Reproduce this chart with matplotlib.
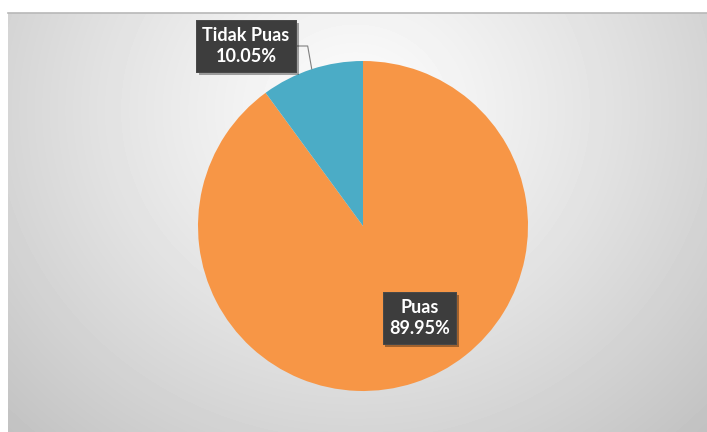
import matplotlib.pyplot as plt
import matplotlib.patheffects as pe
import numpy as np

# data
labels = ['Puas', 'Tidak Puas']
values = [89.95, 10.05]
colors = ['#F79646', '#4BACC6']

W, H = 707, 432
fig = plt.figure(figsize=(W / 100, H / 100), dpi=100)
fig.patch.set_facecolor('white')

# chart area with elliptical grey gradient, lightest near the top middle
bg = fig.add_axes([8 / W, 0, (W - 8) / W, (H - 13) / H])
ny, nx = 419, 699
yy, xx = np.mgrid[0:ny, 0:nx]
d = np.hypot((xx - 347) / 360, (yy - 97) / 330)
shade = (252 - 40 * d ** 1.2) / 255
bg.imshow(shade, cmap='gray', vmin=0, vmax=1, aspect='auto',
          interpolation='bilinear', extent=[0, 1, 0, 1])
bg.set_xlim(0, 1)
bg.set_ylim(0, 1)
bg.set_xticks([])
bg.set_yticks([])
for s in ['left', 'right', 'bottom']:
    bg.spines[s].set_visible(False)
bg.spines['top'].set_color('#b8b8b8')
bg.spines['top'].set_linewidth(1.2)

# pie axes
cx, cy, r = 363, 226, 165
ax = fig.add_axes([(cx - r) / W, (H - cy - r) / H, 2 * r / W, 2 * r / H])
ax.set_facecolor('none')
wedges, _ = ax.pie(values, colors=colors, startangle=90, counterclock=False,
                   radius=1, wedgeprops=dict(linewidth=0))
ax.set_xlim(-1, 1)
ax.set_ylim(-1, 1)
ax.axis('off')

font = dict(family=['Lato', 'DejaVu Sans'], weight='bold', size=13,
            color='white', ha='center', va='center', linespacing=1.35)
box = dict(boxstyle='square,pad=0.36', fc='#3d3d3d', ec='#4a4a4a', lw=0.6)
shadow = [pe.withSimplePatchShadow(offset=(2, -2), shadow_rgbFace='black', alpha=0.35),
          pe.Normal()]

# Puas label inside the slice
t1 = ax.text((419.5 - cx) / r, (cy - 318) / r,
             f'{labels[0]}\n{values[0]:.2f}%', bbox=box, **font)
t1.get_bbox_patch().set_path_effects(shadow)

# Tidak Puas label outside with leader line
w = wedges[1]
mid = np.deg2rad((w.theta1 + w.theta2) / 2)
t2 = ax.annotate(f'{labels[1]}\n{values[1]:.2f}%',
                 xy=(np.cos(mid), np.sin(mid)),
                 xytext=((246 - cx) / r, (cy - 46) / r),
                 bbox=box, annotation_clip=False,
                 arrowprops=dict(arrowstyle='-', color='#808080', lw=0.8,
                                 shrinkA=0, shrinkB=0,
                                 connectionstyle='angle,angleA=0,angleB=100,rad=0'),
                 **font)
t2.get_bbox_patch().set_path_effects(shadow)

fig.savefig('out.png', dpi=100)
